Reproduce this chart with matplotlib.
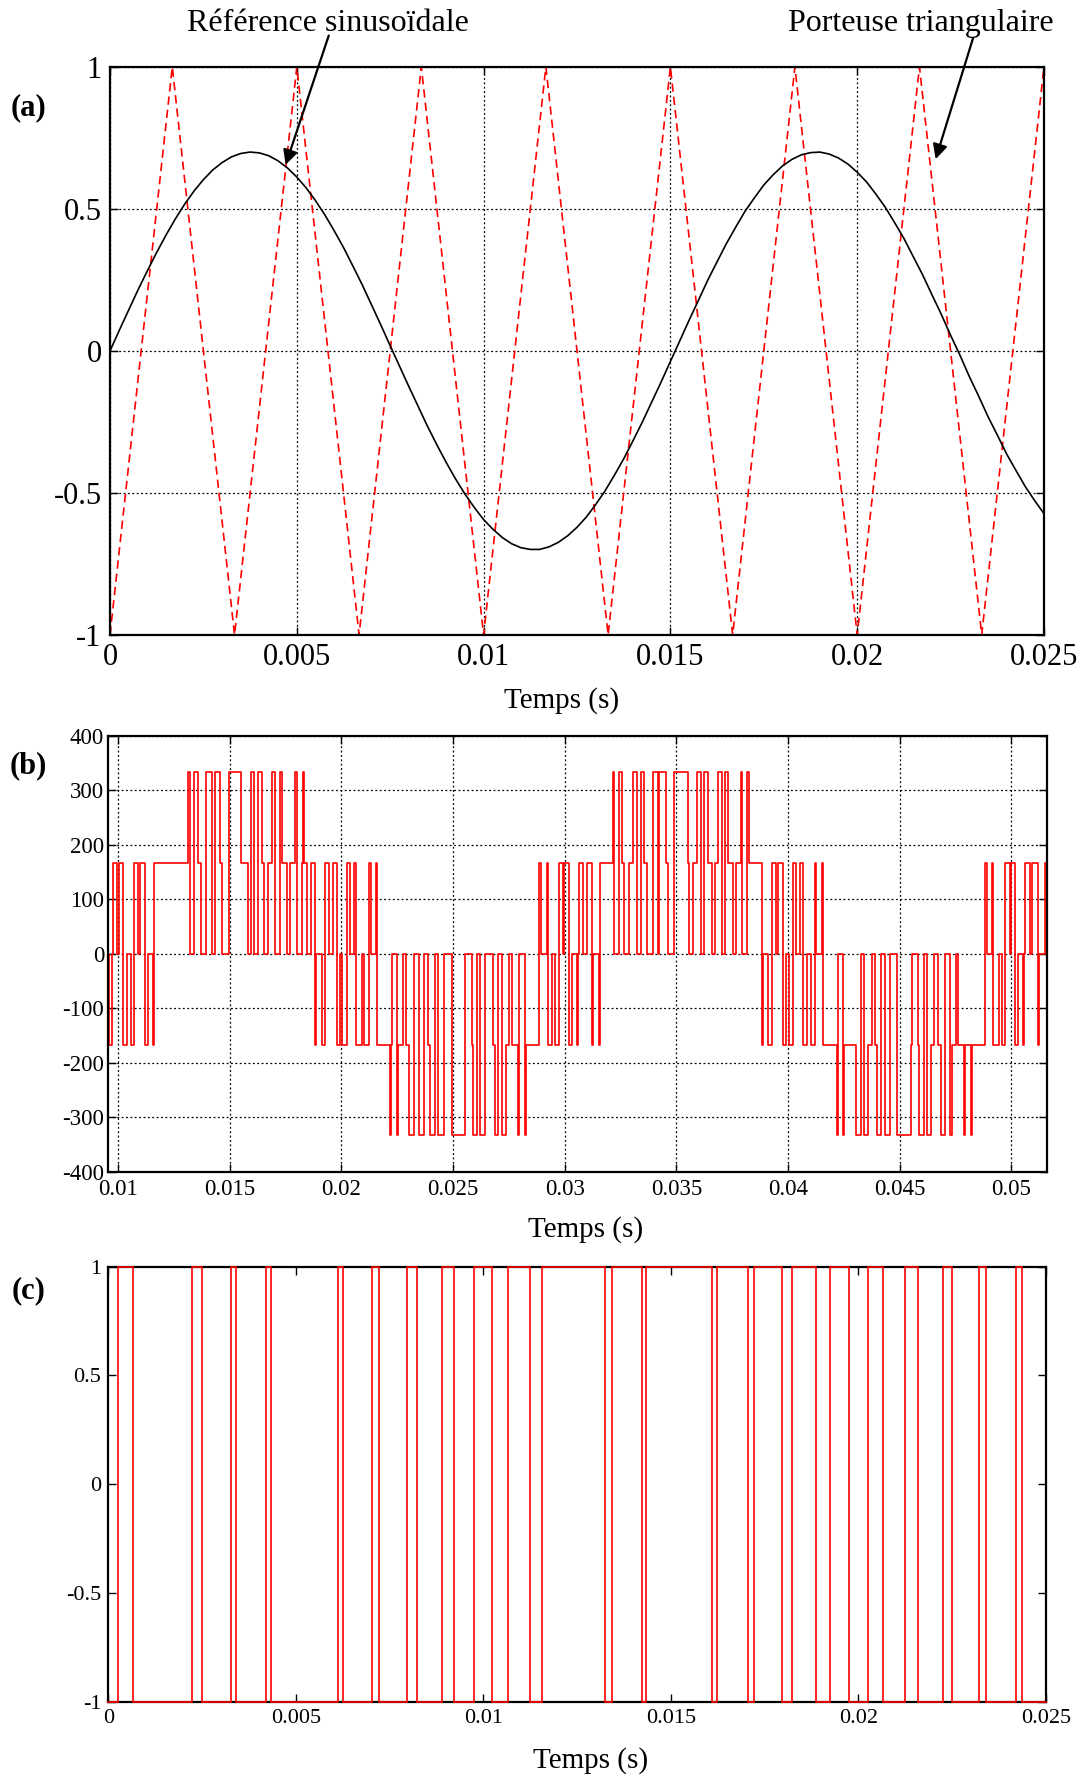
import matplotlib
matplotlib.use('Agg')
import matplotlib.pyplot as plt
import numpy as np

plt.rcParams['font.family'] = ['Liberation Serif', 'DejaVu Serif']

# ---------------- data ----------------
# (a) sinusoidal reference, time in ms
sine_t_ms = [0.0, 0.25, 0.5, 0.75, 1.0, 1.25, 1.5, 1.75, 2.0, 2.25, 2.5, 2.75, 3.0, 3.25,
             3.5, 3.75, 4.0, 4.25, 4.5, 4.75, 5.0, 5.25, 5.5, 5.75, 6.0, 6.25, 6.5, 6.75,
             7.0, 7.25, 7.5, 7.75, 8.0, 8.25, 8.5, 8.75, 9.0, 9.25, 9.5, 9.75, 10.0,
             10.25, 10.5, 10.75, 11.0, 11.25, 11.5, 11.75, 12.0, 12.25, 12.5, 12.75,
             13.0, 13.25, 13.5, 13.75, 14.0, 14.25, 14.5, 14.75, 15.0, 15.25, 15.5,
             15.75, 16.0, 16.25, 16.5, 16.75, 17.0, 17.25, 17.5, 17.75, 18.0, 18.25,
             18.5, 18.75, 19.0, 19.25, 19.5, 19.75, 20.0, 20.25, 20.5, 20.75, 21.0,
             21.25, 21.5, 21.75, 22.0, 22.25, 22.5, 22.75, 23.0, 23.25, 23.5, 23.75,
             24.0, 24.25, 24.5, 24.75, 25.0]
sine_v = [0.0, 0.073, 0.144, 0.215, 0.282, 0.347, 0.408, 0.465, 0.517, 0.563, 0.603,
          0.637, 0.663, 0.683, 0.695, 0.700, 0.697, 0.687, 0.669, 0.644, 0.612, 0.574,
          0.529, 0.479, 0.423, 0.364, 0.299, 0.233, 0.162, 0.091, 0.018, -0.054,
          -0.126, -0.196, -0.266, -0.331, -0.393, -0.451, -0.504, -0.551, -0.594,
          -0.628, -0.657, -0.679, -0.693, -0.699, -0.699, -0.690, -0.674, -0.651,
          -0.621, -0.585, -0.541, -0.493, -0.438, -0.380, -0.316, -0.250, -0.180,
          -0.110, -0.037, 0.035, 0.108, 0.178, 0.249, 0.314, 0.378, 0.436, 0.492,
          0.539, 0.584, 0.620, 0.651, 0.674, 0.690, 0.698, 0.700, 0.693, 0.679, 0.658,
          0.629, 0.595, 0.552, 0.506, 0.452, 0.396, 0.332, 0.268, 0.198, 0.129, 0.055,
          -0.015, -0.090, -0.159, -0.231, -0.296, -0.363, -0.421, -0.478, -0.527,
          -0.573]
# (a) triangular carrier vertices
tri_t_ms = [0.0, 1.667, 3.333, 5.0, 6.667, 8.333, 10.0, 11.667, 13.333, 15.0,
            16.667, 18.333, 20.0, 21.667, 23.333, 25.0]
tri_v = [-1, 1, -1, 1, -1, 1, -1, 1, -1, 1, -1, 1, -1, 1, -1, 1]

# (b) phase voltage: switching instants (ms) and level after each instant (V)
b_t_ms = [9.552, 9.583, 9.733, 9.777, 9.957, 10.031, 10.225, 10.375, 10.569, 10.718,
          10.868, 10.987, 11.196, 11.316, 11.540, 11.614, 13.107, 13.227, 13.406, 13.556,
          13.690, 13.929, 14.183, 14.332, 14.556, 14.631, 14.960, 15.497, 15.796, 15.930,
          16.080, 16.274, 16.453, 16.543, 16.722, 16.901, 17.020, 17.244, 17.319, 17.543,
          17.692, 17.916, 17.991, 18.215, 18.280, 18.320, 18.470, 18.619, 18.813, 18.858,
          19.112, 19.261, 19.455, 19.605, 19.784, 19.933, 20.008, 20.262, 20.381, 20.560,
          20.650, 20.904, 21.008, 21.247, 21.307, 21.546, 21.606, 22.173, 22.233, 22.263,
          22.472, 22.547, 22.771, 22.890, 23.039, 23.248, 23.487, 23.697, 23.891, 23.965,
          24.189, 24.339, 24.593, 24.936, 25.533, 25.832, 25.877, 26.086, 26.205, 26.429,
          26.773, 26.877, 27.026, 27.206, 27.355, 27.504, 27.654, 27.922, 27.952, 28.221,
          28.251, 28.863, 28.923, 29.192, 29.237, 29.446, 29.565, 29.759, 29.938, 29.983,
          30.192, 30.342, 30.536, 30.596, 30.655, 30.835, 30.984, 31.208, 31.253, 31.551,
          31.596, 32.179, 32.223, 32.433, 32.582, 32.671, 32.895, 33.075, 33.224, 33.403,
          33.553, 33.672, 33.971, 34.195, 34.240, 34.523, 34.613, 34.911, 35.509, 35.569,
          35.763, 35.913, 36.092, 36.241, 36.435, 36.585, 36.734, 36.883, 37.033, 37.182,
          37.331, 37.555, 37.660, 37.884, 37.944, 38.183, 38.242, 38.825, 38.870, 39.124,
          39.273, 39.452, 39.572, 39.766, 39.915, 40.064, 40.244, 40.363, 40.542, 40.662,
          40.871, 41.020, 41.214, 41.259, 41.513, 41.558, 42.185, 42.245, 42.484, 42.529,
          43.051, 43.260, 43.410, 43.604, 43.753, 43.902, 44.007, 44.156, 44.350, 44.574,
          44.873, 45.515, 45.575, 45.814, 45.888, 46.112, 46.217, 46.396, 46.560, 46.710,
          46.859, 47.038, 47.262, 47.337, 47.516, 47.606, 47.904, 47.934, 48.203, 48.233,
          48.830, 48.905, 49.129, 49.204, 49.457, 49.577, 49.726, 49.950, 49.995, 50.174,
          50.323, 50.548, 50.592, 50.622, 50.846, 50.951, 51.190, 51.250, 51.518, 51.593]
b_v = [0, -167, 0, 167, 0, 167, -167, 0, -167, 167,
       0, 167, -167, 0, -167, 167, 333, 0, 333, 167,
       0, 333, 0, 333, 167, 0, 333, 167, 0, 333,
       0, 333, 167, 0, 167, 333, 0, 333, 167, 0,
       167, 333, 0, 167, 333, 167, 0, 167, -167, 0,
       -167, 167, 0, 167, -167, 0, -167, 167, 0, 167,
       -167, 0, -167, 167, 0, 167, -167, -333, -167, 0,
       -333, -167, 0, -167, -333, 0, -333, 0, -167, -333,
       0, -333, 0, -333, 0, -167, -333, 0, -333, 0,
       -167, -333, 0, -333, -167, 0, -167, -333, 0, -333,
       -167, 167, 0, 167, -167, 0, -167, 167, 0, 167,
       -167, 0, -167, 0, 167, 0, 167, -167, 0, -167,
       167, 333, 0, 333, 167, 0, 167, 333, 0, 333,
       167, 0, 333, 0, 333, 167, 0, 333, 167, 0,
       167, 333, 0, 333, 167, 0, 167, 333, 0, 333,
       167, 0, 167, 333, 0, 333, 167, -167, 0, -167,
       167, 0, 167, -167, 0, -167, 167, 0, 167, -167,
       0, -167, 167, 0, 167, -167, -333, 0, -333, -167,
       -333, 0, -333, -167, 0, -167, -333, 0, -333, 0,
       -333, -167, 0, -167, -333, 0, -333, -167, 0, -167,
       -333, 0, -333, -167, 0, -167, -333, -167, -333, -167,
       167, 0, 167, -167, 0, -167, 167, 0, 167, -167,
       0, -167, 0, 167, 0, 167, -167, 0, 167, -167]

# (c) switching signal: edge instants (ms); level starts at -1 and toggles
c_edges_ms = [0.267, 0.667, 2.240, 2.491, 3.264, 3.406, 4.206, 4.339, 6.118, 6.268,
              7.025, 7.228, 7.974, 8.225, 8.892, 9.228, 9.761, 10.241, 10.668, 11.255,
              11.567, 13.247, 13.426, 14.226, 14.341, 16.093, 16.242, 17.053, 17.221, 17.960,
              18.243, 18.867, 19.248, 19.763, 20.269, 20.669, 21.248, 21.587, 22.254, 22.494,
              23.222, 23.401, 24.201, 24.361]
c_start_level = -1

# tick labels
a_xticks = [0, 0.005, 0.01, 0.015, 0.02, 0.025]
a_xlabels = ['0', '0.005', '0.01', '0.015', '0.02', '0.025']
a_yticks = [-1, -0.5, 0, 0.5, 1]
a_ylabels = ['-1', '-0.5', '0', '0.5', '1']
b_xticks = [0.01, 0.015, 0.02, 0.025, 0.03, 0.035, 0.04, 0.045, 0.05]
b_xlabels = ['0.01', '0.015', '0.02', '0.025', '0.03', '0.035', '0.04', '0.045', '0.05']
b_yticks = [-400, -300, -200, -100, 0, 100, 200, 300, 400]
b_ylabels = ['-400', '-300', '-200', '-100', '0', '100', '200', '300', '400']

# ---------------- figure ----------------
fig = plt.figure(figsize=(10.85, 17.78), dpi=100)

def style(ax, fs, padx, pady):
    for s in ax.spines.values():
        s.set_linewidth(1.6)
        s.set_color('black')
    ax.tick_params(direction='in', top=True, right=True, length=6, width=1.0,
                   labelsize=fs, colors='black')
    ax.tick_params(axis='x', pad=padx)
    ax.tick_params(axis='y', pad=pady)

grid_kw = dict(color='black', linestyle=(0, (1.5, 2.0)), linewidth=0.9)

# ----- (a)
axA = fig.add_axes([0.1014, 0.6429, 0.8608, 0.3195])
axA.plot(np.array(tri_t_ms) / 1000, tri_v, color='red', lw=1.2, ls=(0, (5, 3)))
axA.plot(np.array(sine_t_ms) / 1000, sine_v, color='black', lw=1.2)
axA.set_xlim(0, 0.025)
axA.set_ylim(-1, 1)
axA.set_xticks(a_xticks)
axA.set_xticklabels(a_xlabels)
axA.set_yticks(a_yticks)
axA.set_yticklabels(a_ylabels)
axA.grid(True, **grid_kw)
style(axA, 22, 6, 6)

axA.annotate('', xy=(0.0047, 0.655), xycoords='data',
             xytext=(0.303, 0.9800), textcoords='figure fraction',
             arrowprops=dict(arrowstyle='-|>', color='black', lw=1.6,
                             mutation_scale=22, shrinkA=0, shrinkB=0))
axA.annotate('', xy=(0.0221, 0.675), xycoords='data',
             xytext=(0.8968, 0.9785), textcoords='figure fraction',
             arrowprops=dict(arrowstyle='-|>', color='black', lw=1.6,
                             mutation_scale=22, shrinkA=0, shrinkB=0))
fig.text(0.302, 0.9868, 'Référence sinusoïdale', ha='center', va='center', fontsize=23)
fig.text(0.8485, 0.9868, 'Porteuse triangulaire', ha='center', va='center', fontsize=23)
fig.text(0.518, 0.6062, 'Temps (s)', ha='center', va='center', fontsize=21)
fig.text(0.0261, 0.9394, '(a)', ha='center', va='center', fontsize=22, fontweight='bold')

# ----- (b)
axB = fig.add_axes([0.0998, 0.3410, 0.8649, 0.2451])
bt = list(np.array(b_t_ms) / 1000) + [0.051593]
bv = list(b_v) + [b_v[-1]]
axB.step(bt, bv, where='post', color='red', lw=1.2)
axB.set_xlim(0.009552, 0.051593)
axB.set_ylim(-400, 400)
axB.set_xticks(b_xticks)
axB.set_xticklabels(b_xlabels)
axB.set_yticks(b_yticks)
axB.set_yticklabels(b_ylabels)
axB.grid(True, **grid_kw)
style(axB, 16.5, 5, 3)
fig.text(0.540, 0.3085, 'Temps (s)', ha='center', va='center', fontsize=21)
fig.text(0.0261, 0.5696, '(b)', ha='center', va='center', fontsize=22, fontweight='bold')

# ----- (c)
axC = fig.add_axes([0.0998, 0.0429, 0.8640, 0.2447])
ct = [0.0]
cv = [c_start_level]
lvl = c_start_level
for e in c_edges_ms:
    lvl = -lvl
    ct.append(e / 1000)
    cv.append(lvl)
ct.append(0.025)
cv.append(lvl)
axC.step(ct, cv, where='post', color='red', lw=1.2, clip_on=False, zorder=3)
axC.set_xlim(0, 0.025)
axC.set_ylim(-1, 1)
axC.set_xticks(a_xticks)
axC.set_xticklabels(a_xlabels)
axC.set_yticks(a_yticks)
axC.set_yticklabels(a_ylabels)
style(axC, 16, 5, 5)
fig.text(0.544, 0.0101, 'Temps (s)', ha='center', va='center', fontsize=21)
fig.text(0.0261, 0.2743, '(c)', ha='center', va='center', fontsize=22, fontweight='bold')

fig.savefig('out.png', dpi=100)
